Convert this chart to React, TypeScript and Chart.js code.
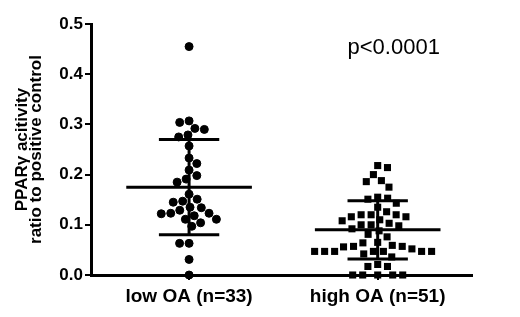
import React, { useEffect, useRef } from "react";
import { Chart, registerables } from "chart.js";

Chart.register(...registerables);

const categories = ["low OA (n=33)", "high OA (n=51)"];

const lowOA = [
  0.455, 0.307, 0.304, 0.292, 0.29, 0.279, 0.275, 0.257, 0.233, 0.222, 0.209,
  0.198, 0.191, 0.185, 0.161, 0.151, 0.147, 0.145, 0.135, 0.134, 0.129, 0.123,
  0.123, 0.122, 0.118, 0.111, 0.111, 0.104, 0.097, 0.063, 0.063, 0.031, 0.0,
];

const highOA = [
  0.218, 0.214, 0.2, 0.188, 0.186, 0.175, 0.155, 0.153, 0.151, 0.143, 0.135,
  0.126, 0.12, 0.12, 0.12, 0.116, 0.116, 0.11, 0.108, 0.103, 0.1, 0.1, 0.098,
  0.092, 0.088, 0.081, 0.076, 0.065, 0.064, 0.059, 0.057, 0.057, 0.056, 0.052,
  0.047, 0.047, 0.047, 0.047, 0.047, 0.047, 0.047, 0.042, 0.036, 0.021, 0.017,
  0.017, 0.0, 0.0, 0.0, 0.0, 0.0,
];

const meanValues = [0.175, 0.09];
const sdValues = [0.095, 0.058];
const yTicks = [0, 0.1, 0.2, 0.3, 0.4, 0.5];
const yTitle = ["PPARγ acitivity", "ratio to positive control"];
const pValueText = "p<0.0001";

const FONT = "'Liberation Sans', Arial, Helvetica, sans-serif";

function beeswarm(values: number[], center: number, xs: any, ys: any, d: number) {
  const placed: { px: number; py: number }[] = [];
  const order = values.map((_, i) => i).sort((a, b) => values[b] - values[a]);
  const res: { x: number; y: number }[] = new Array(values.length);
  const cx = xs.getPixelForValue(center);
  let flip = 1;
  for (const i of order) {
    const py = ys.getPixelForValue(values[i]);
    const intervals: [number, number][] = [];
    for (const p of placed) {
      const dy = Math.abs(p.py - py);
      if (dy < d) {
        const w = Math.sqrt(d * d - dy * dy);
        intervals.push([p.px - w, p.px + w]);
      }
    }
    const cands = [cx];
    for (const [a, b] of intervals) cands.push(a, b);
    cands.sort((a, b) => {
      const da = Math.abs(a - cx);
      const db = Math.abs(b - cx);
      if (Math.abs(da - db) < 0.01) return flip * (a - b);
      return da - db;
    });
    let best = cx;
    for (const c of cands) {
      const inside = intervals.some(([a, b]) => c > a + 1e-6 && c < b - 1e-6);
      if (!inside) {
        best = c;
        break;
      }
    }
    flip = -flip;
    placed.push({ px: best, py });
    res[i] = { x: xs.getValueForPixel(best), y: values[i] };
  }
  return res;
}

const errorBarPlugin = {
  id: "errorBars",
  afterDatasetsDraw(chart: any) {
    const { ctx, scales } = chart;
    const xs = scales.x;
    const ys = scales.y;
    ctx.save();
    ctx.strokeStyle = "#000";
    ctx.lineWidth = 3;
    ctx.lineCap = "butt";
    meanValues.forEach((m, i) => {
      const c = i + 1;
      const s = sdValues[i];
      ctx.beginPath();
      ctx.moveTo(xs.getPixelForValue(c - 0.333), ys.getPixelForValue(m));
      ctx.lineTo(xs.getPixelForValue(c + 0.333), ys.getPixelForValue(m));
      ctx.moveTo(xs.getPixelForValue(c - 0.16), ys.getPixelForValue(m + s));
      ctx.lineTo(xs.getPixelForValue(c + 0.16), ys.getPixelForValue(m + s));
      ctx.moveTo(xs.getPixelForValue(c - 0.16), ys.getPixelForValue(m - s));
      ctx.lineTo(xs.getPixelForValue(c + 0.16), ys.getPixelForValue(m - s));
      ctx.moveTo(xs.getPixelForValue(c), ys.getPixelForValue(m + s));
      ctx.lineTo(xs.getPixelForValue(c), ys.getPixelForValue(m - s));
      ctx.stroke();
    });
    ctx.fillStyle = "#000";
    ctx.font = `22px ${FONT}`;
    ctx.textAlign = "center";
    ctx.textBaseline = "alphabetic";
    ctx.fillText(pValueText, xs.getPixelForValue(2.085), ys.getPixelForValue(0.44));
    ctx.restore();
  },
};

export default function App() {
  const ref = useRef<HTMLCanvasElement | null>(null);
  useEffect(() => {
    if (!ref.current) return;
    const chart = new Chart(ref.current, {
      type: "scatter",
      data: {
        datasets: [
          {
            label: categories[0],
            data: lowOA.map((v) => ({ x: 1, y: v })),
            pointStyle: "circle",
            pointRadius: 4,
            borderWidth: 1,
            backgroundColor: "#000",
            borderColor: "#000",
            clip: false,
          } as any,
          {
            label: categories[1],
            data: highOA.map((v) => ({ x: 2, y: v })),
            pointStyle: "rect",
            pointRadius: 5,
            borderWidth: 0,
            backgroundColor: "#000",
            borderColor: "#000",
            clip: false,
          } as any,
        ],
      },
      options: {
        responsive: false,
        animation: false,
        events: [],
        layout: { padding: { top: 24, right: 48, bottom: 0, left: 0 } },
        plugins: { legend: { display: false }, tooltip: { enabled: false } },
        scales: {
          x: {
            type: "linear",
            min: 0.48,
            max: 2.5,
            afterBuildTicks: (s: any) => {
              s.ticks = [{ value: 1 }, { value: 2 }];
            },
            afterFit: (s: any) => {
              s.height = 42;
            },
            ticks: {
              callback: (v: any) => categories[Math.round(Number(v)) - 1],
              font: { family: FONT, size: 19, weight: "bold" },
              color: "#000",
              padding: 5,
              maxRotation: 0,
              autoSkip: false,
            },
            grid: {
              display: true,
              drawOnChartArea: false,
              drawTicks: true,
              tickLength: 5,
              color: "#000",
              lineWidth: 2,
            },
            border: { display: true, color: "#000", width: 3 },
          },
          y: {
            type: "linear",
            min: 0,
            max: 0.5,
            afterBuildTicks: (s: any) => {
              s.ticks = yTicks.map((v) => ({ value: v }));
            },
            afterFit: (s: any) => {
              s.width = 91;
            },
            ticks: {
              callback: (v: any) => Number(v).toFixed(1),
              font: { family: FONT, size: 17, weight: "bold" },
              color: "#000",
              padding: 2,
            },
            grid: {
              display: true,
              drawOnChartArea: false,
              drawTicks: true,
              tickLength: 6,
              color: "#000",
              lineWidth: 2,
            },
            border: { display: true, color: "#000", width: 3 },
            title: {
              display: true,
              text: yTitle,
              color: "#000",
              font: { family: FONT, size: 17, weight: "bold", lineHeight: 0.85 },
              padding: { top: 15, bottom: 0 },
            },
          },
        },
      } as any,
      plugins: [errorBarPlugin],
    });

    const xs = chart.scales.x;
    const ys = chart.scales.y;
    chart.data.datasets[0].data = beeswarm(lowOA, 1, xs, ys, 9.5) as any;
    chart.data.datasets[1].data = beeswarm(highOA, 2, xs, ys, 10) as any;
    chart.update("none");

    return () => chart.destroy();
  }, []);

  return (
    <div style={{ position: "fixed", left: 0, top: 0, width: 520, height: 317, background: "#fff" }}>
      <canvas ref={ref} width={520} height={317} style={{ display: "block" }} />
    </div>
  );
}
